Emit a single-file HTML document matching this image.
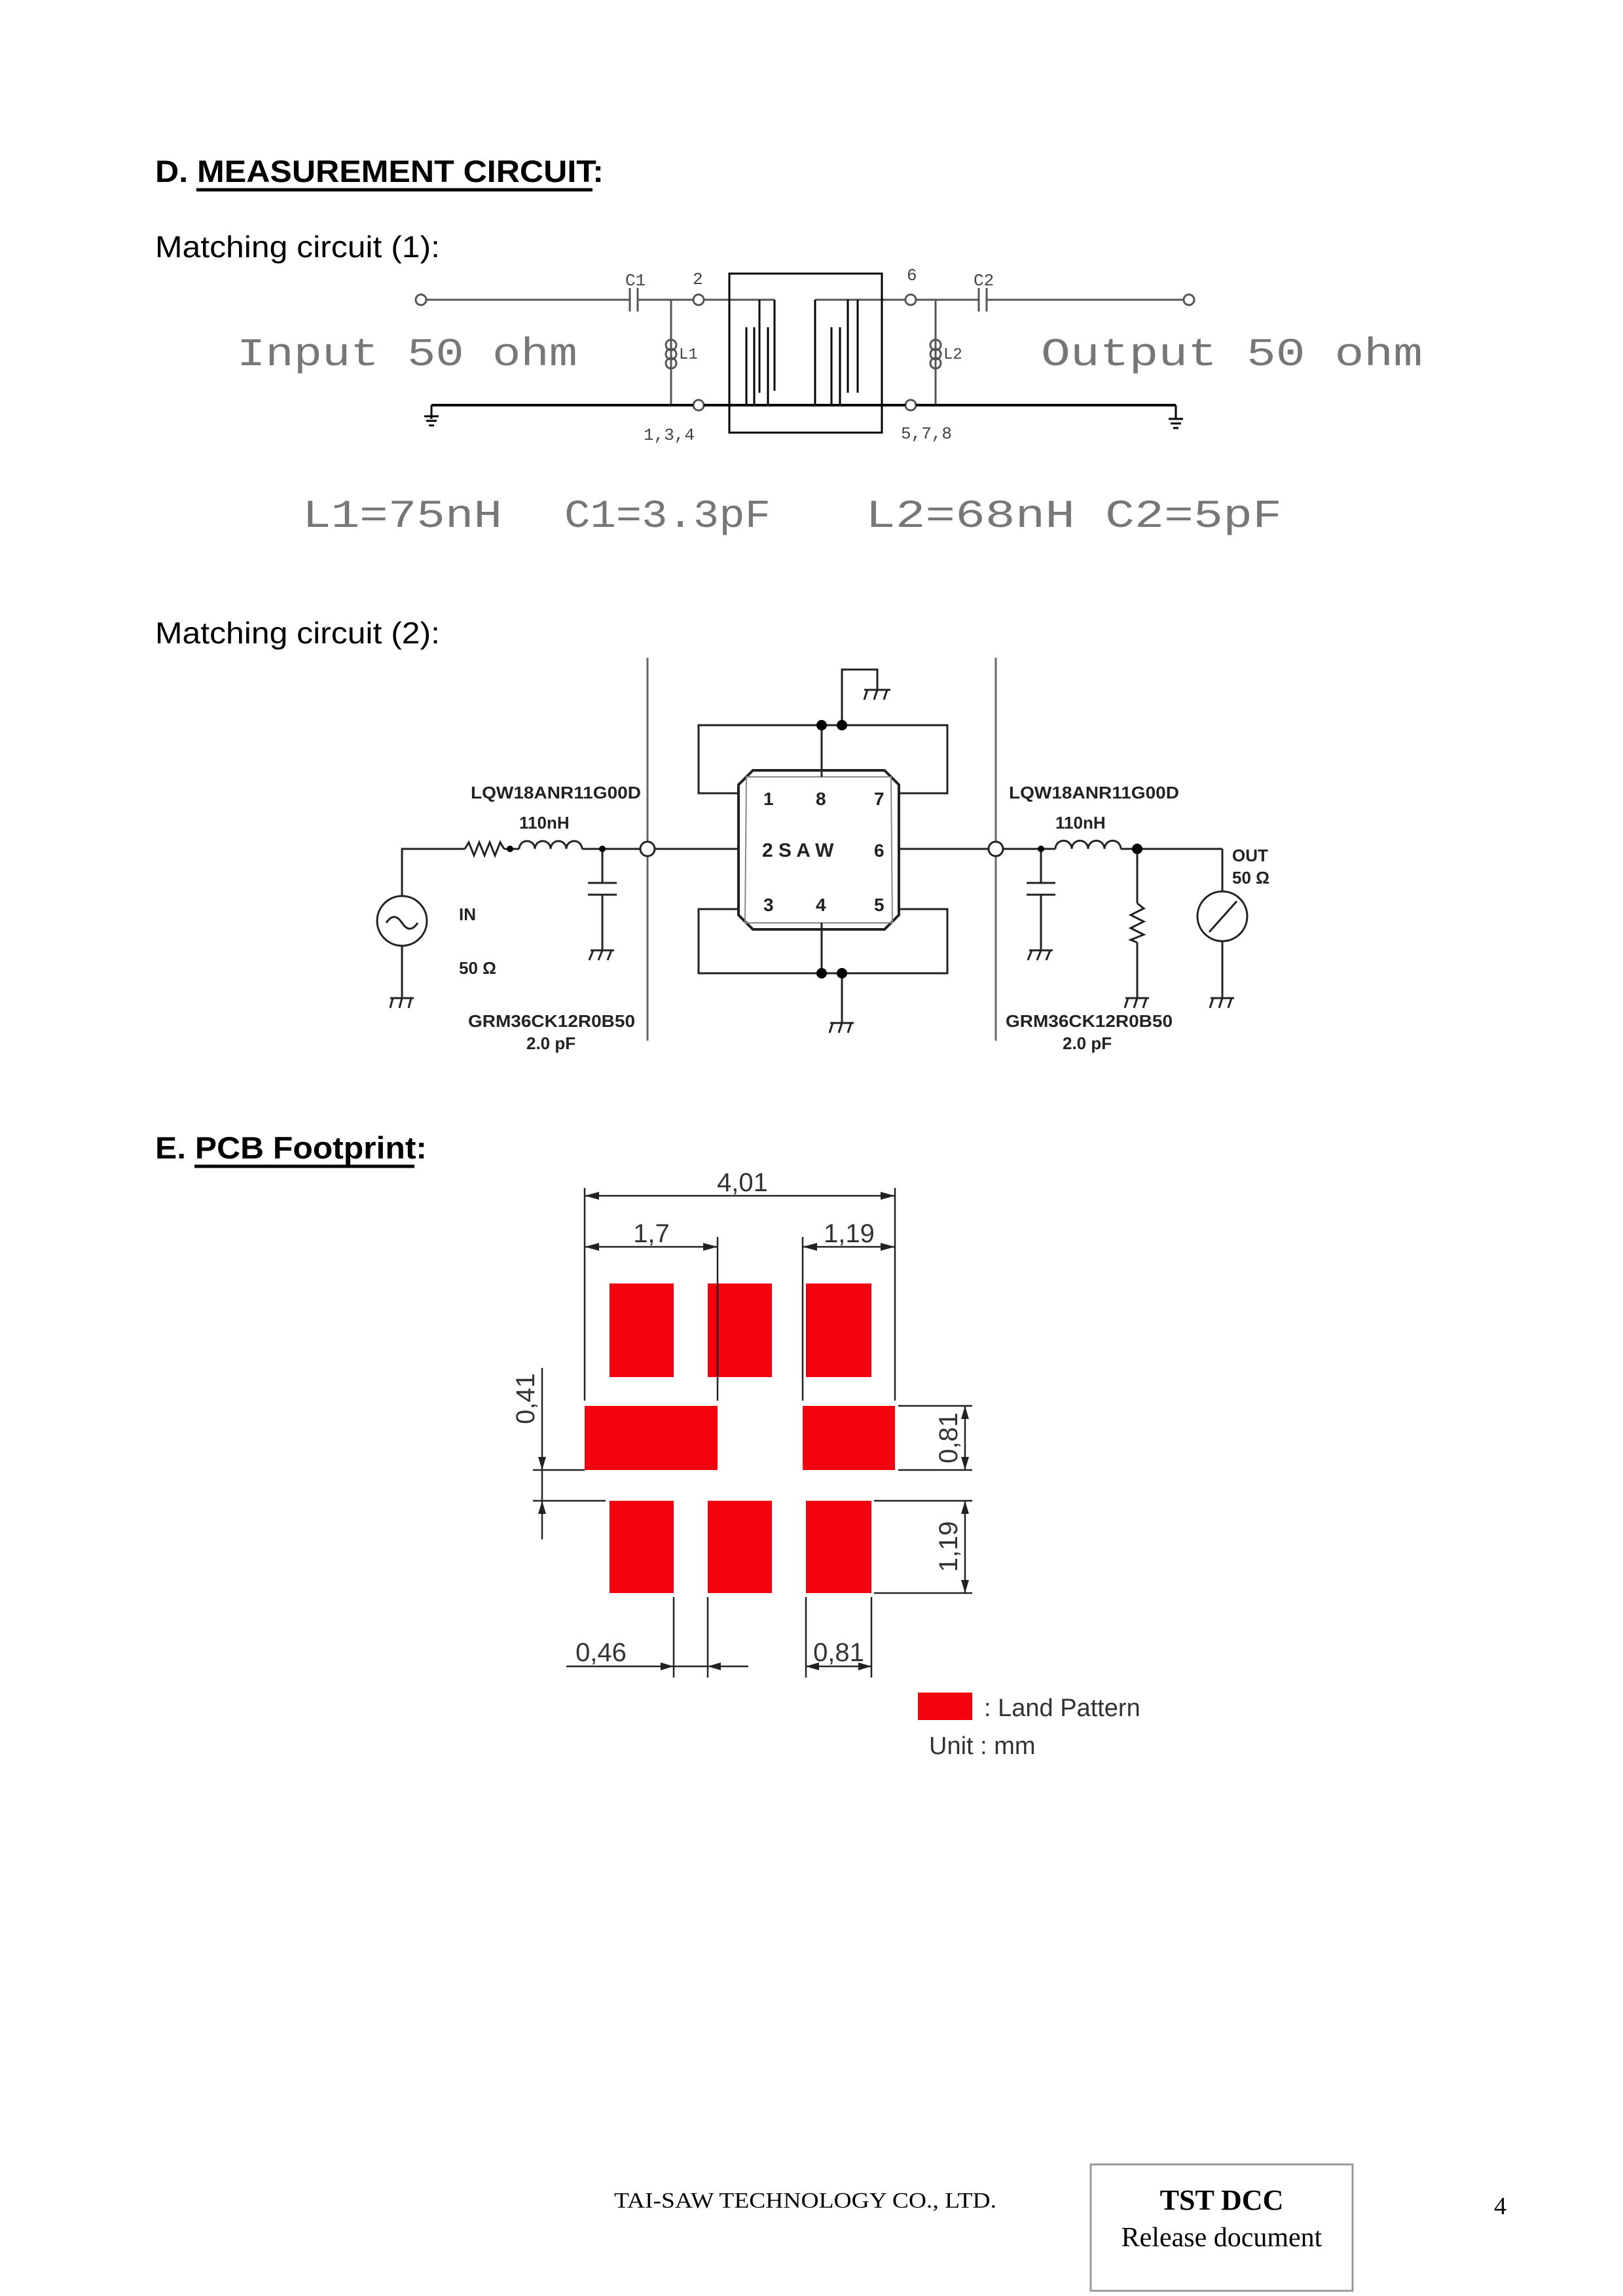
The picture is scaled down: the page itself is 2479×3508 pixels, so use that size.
<!DOCTYPE html>
<html><head><meta charset="utf-8"><style>
html,body{margin:0;padding:0;background:#fff}
svg{display:block}
</style></head><body>
<svg width="2479" height="3508" viewBox="0 0 2479 3508" xmlns="http://www.w3.org/2000/svg" font-family="Liberation Sans, sans-serif">
<rect width="2479" height="3508" fill="#fff"/>
<!-- Headings -->
<text x="237" y="278" font-size="47" font-weight="bold" textLength="685" lengthAdjust="spacingAndGlyphs">D. MEASUREMENT CIRCUIT:</text>
<line x1="300" y1="290" x2="905" y2="290" stroke="#000" stroke-width="5"/>
<text x="237" y="393" font-size="46" textLength="435" lengthAdjust="spacingAndGlyphs">Matching circuit (1):</text>
<text x="237" y="983" font-size="46" textLength="435" lengthAdjust="spacingAndGlyphs">Matching circuit (2):</text>
<text x="237" y="1770" font-size="47" font-weight="bold" textLength="415" lengthAdjust="spacingAndGlyphs">E. PCB Footprint:</text>
<line x1="297" y1="1782" x2="633" y2="1782" stroke="#000" stroke-width="5"/>

<!-- Circuit 1 -->
<g stroke="#555" stroke-width="3" fill="none">
<line x1="651" y1="458" x2="962" y2="458"/>
<line x1="974" y1="458" x2="1059" y2="458"/>
<line x1="1075" y1="458" x2="1183" y2="458"/>
<line x1="1245" y1="458" x2="1383" y2="458"/>
<line x1="1399" y1="458" x2="1495" y2="458"/>
<line x1="1507" y1="458" x2="1808" y2="458"/>
<line x1="962" y1="440" x2="962" y2="476"/><line x1="974" y1="440" x2="974" y2="476"/>
<line x1="1495" y1="440" x2="1495" y2="476"/><line x1="1507" y1="440" x2="1507" y2="476"/>
<circle cx="643" cy="458" r="8"/><circle cx="1067" cy="458" r="8"/><circle cx="1391" cy="458" r="8"/><circle cx="1816" cy="458" r="8"/>
<circle cx="1067" cy="619" r="8"/><circle cx="1391" cy="619" r="8"/>
<line x1="1025" y1="458" x2="1025" y2="619"/>
<line x1="1429" y1="458" x2="1429" y2="619"/>
<ellipse cx="1025" cy="527" rx="8" ry="8"/><ellipse cx="1025" cy="541" rx="8" ry="8"/><ellipse cx="1025" cy="555" rx="8" ry="8"/>
<ellipse cx="1429" cy="527" rx="8" ry="8"/><ellipse cx="1429" cy="541" rx="8" ry="8"/><ellipse cx="1429" cy="555" rx="8" ry="8"/>
</g>
<g stroke="#000" stroke-width="3" fill="none">
<rect x="1114" y="418" width="233" height="243"/>
<line x1="659" y1="619" x2="1059" y2="619" stroke-width="4"/>
<line x1="1075" y1="619" x2="1383" y2="619" stroke-width="4"/>
<line x1="1399" y1="619" x2="1796" y2="619" stroke-width="4"/>
<line x1="659" y1="619" x2="659" y2="640"/>
<line x1="648" y1="636" x2="670" y2="636"/><line x1="651" y1="643" x2="667" y2="643"/><line x1="655" y1="650" x2="663" y2="650"/>
<line x1="1796" y1="619" x2="1796" y2="640"/>
<line x1="1785" y1="640" x2="1807" y2="640"/><line x1="1788" y1="647" x2="1804" y2="647"/><line x1="1792" y1="654" x2="1800" y2="654"/>
<line x1="1183" y1="458" x2="1183" y2="597"/>
<line x1="1160" y1="458" x2="1160" y2="600"/>
<line x1="1173" y1="500" x2="1173" y2="619"/>
<line x1="1140" y1="500" x2="1140" y2="619"/>
<line x1="1152" y1="500" x2="1152" y2="619"/>
<line x1="1245" y1="458" x2="1245" y2="619"/>
<line x1="1270" y1="500" x2="1270" y2="619"/>
<line x1="1295" y1="458" x2="1295" y2="600"/>
<line x1="1310" y1="458" x2="1310" y2="600"/>
<line x1="1283" y1="500" x2="1283" y2="619"/>
</g>
<g font-family="Liberation Mono, monospace" fill="#444">
<text x="955" y="436" font-size="26">C1</text>
<text x="1058" y="434" font-size="26">2</text>
<text x="1385" y="428" font-size="26">6</text>
<text x="1487" y="436" font-size="26">C2</text>
<text x="1037" y="548" font-size="24">L1</text>
<text x="1441" y="548" font-size="24">L2</text>
<text x="983" y="672" font-size="26">1,3,4</text>
<text x="1376" y="670" font-size="26">5,7,8</text>
<text x="362" y="558" font-size="60" fill="#777" textLength="520" lengthAdjust="spacingAndGlyphs">Input 50 ohm</text>
<text x="1590" y="558" font-size="60" fill="#777" textLength="583" lengthAdjust="spacingAndGlyphs">Output 50 ohm</text>
<text x="462" y="805" font-size="60" fill="#777" textLength="305" lengthAdjust="spacingAndGlyphs">L1=75nH</text>
<text x="862" y="805" font-size="60" fill="#777" textLength="315" lengthAdjust="spacingAndGlyphs">C1=3.3pF</text>
<text x="1322" y="805" font-size="60" fill="#777" textLength="320" lengthAdjust="spacingAndGlyphs">L2=68nH</text>
<text x="1688" y="805" font-size="60" fill="#777" textLength="270" lengthAdjust="spacingAndGlyphs">C2=5pF</text>
</g>

<!-- Circuit 2 -->
<g stroke="#222" stroke-width="3" fill="none">
<line x1="989" y1="1005" x2="989" y2="1590" stroke="#666"/>
<line x1="1521" y1="1005" x2="1521" y2="1590" stroke="#666"/>
<circle cx="614" cy="1407" r="38"/>
<path d="M590 1410 q12 -18 24 0 q12 18 24 0"/>
<polyline points="614,1369 614,1297 710,1297"/>
<polyline points="710,1297 716,1287 724,1307 732,1287 740,1307 748,1287 756,1307 764,1287 770,1297"/>
<line x1="770" y1="1297" x2="793" y2="1297"/>
<path d="M793 1297 a12 12 0 0 1 24 0 a12 12 0 0 1 24 0 a12 12 0 0 1 24 0 a12 12 0 0 1 24 0"/>
<line x1="889" y1="1297" x2="981" y2="1297"/>
<line x1="614" y1="1445" x2="614" y2="1525"/>
<line x1="596" y1="1525" x2="632" y2="1525"/>
<line x1="600" y1="1525" x2="596" y2="1540"/><line x1="614" y1="1525" x2="610" y2="1540"/><line x1="628" y1="1525" x2="624" y2="1540"/>
<line x1="920" y1="1297" x2="920" y2="1349"/>
<line x1="898" y1="1349" x2="942" y2="1349"/><line x1="898" y1="1367" x2="942" y2="1367"/>
<line x1="920" y1="1367" x2="920" y2="1452"/>
<line x1="902" y1="1452" x2="938" y2="1452"/>
<line x1="906" y1="1452" x2="900" y2="1467"/><line x1="920" y1="1452" x2="914" y2="1467"/><line x1="934" y1="1452" x2="928" y2="1467"/>
<circle cx="989" cy="1297" r="11" fill="#fff"/>
<line x1="1000" y1="1297" x2="1130" y2="1297"/>
<path d="M1150 1177 L1351 1177 L1373 1199 L1373 1398 L1351 1420 L1150 1420 L1128 1398 L1128 1199 Z" stroke-width="4"/>
<path d="M1140 1187 L1361 1187 L1363 1410 L1138 1410 Z" stroke-width="2" stroke="#888"/>
<line x1="1373" y1="1297" x2="1513" y2="1297"/>
<polyline points="1128,1212 1067,1212 1067,1108 1447,1108 1447,1212 1373,1212"/>
<line x1="1255" y1="1108" x2="1255" y2="1187"/>
<polyline points="1286,1108 1286,1023 1340,1023 1340,1054"/>
<line x1="1320" y1="1054" x2="1360" y2="1054"/>
<line x1="1325" y1="1054" x2="1320" y2="1069"/><line x1="1340" y1="1054" x2="1335" y2="1069"/><line x1="1355" y1="1054" x2="1350" y2="1069"/>
<polyline points="1128,1389 1067,1389 1067,1487 1447,1487 1447,1389 1373,1389"/>
<line x1="1255" y1="1410" x2="1255" y2="1487"/>
<line x1="1286" y1="1487" x2="1286" y2="1563"/>
<line x1="1268" y1="1563" x2="1304" y2="1563"/>
<line x1="1272" y1="1563" x2="1267" y2="1578"/><line x1="1286" y1="1563" x2="1281" y2="1578"/><line x1="1300" y1="1563" x2="1295" y2="1578"/>
<circle cx="1521" cy="1297" r="11" fill="#fff"/>
<line x1="1532" y1="1297" x2="1612" y2="1297"/>
<path d="M1612 1297 a12.5 12.5 0 0 1 25 0 a12.5 12.5 0 0 1 25 0 a12.5 12.5 0 0 1 25 0 a12.5 12.5 0 0 1 25 0"/>
<line x1="1712" y1="1297" x2="1867" y2="1297"/>
<line x1="1590" y1="1297" x2="1590" y2="1349"/>
<line x1="1568" y1="1349" x2="1612" y2="1349"/><line x1="1568" y1="1367" x2="1612" y2="1367"/>
<line x1="1590" y1="1367" x2="1590" y2="1452"/>
<line x1="1572" y1="1452" x2="1608" y2="1452"/>
<line x1="1576" y1="1452" x2="1570" y2="1467"/><line x1="1590" y1="1452" x2="1584" y2="1467"/><line x1="1604" y1="1452" x2="1598" y2="1467"/>
<line x1="1737" y1="1297" x2="1737" y2="1380"/>
<polyline points="1737,1380 1747,1388 1727,1398 1747,1408 1727,1418 1747,1428 1727,1436 1737,1440"/>
<line x1="1737" y1="1440" x2="1737" y2="1525"/>
<line x1="1719" y1="1525" x2="1755" y2="1525"/>
<line x1="1723" y1="1525" x2="1718" y2="1540"/><line x1="1737" y1="1525" x2="1732" y2="1540"/><line x1="1751" y1="1525" x2="1746" y2="1540"/>
<line x1="1867" y1="1297" x2="1867" y2="1362"/>
<circle cx="1867" cy="1400" r="38"/>
<line x1="1847" y1="1424" x2="1889" y2="1377"/>
<line x1="1867" y1="1438" x2="1867" y2="1525"/>
<line x1="1849" y1="1525" x2="1885" y2="1525"/>
<line x1="1853" y1="1525" x2="1848" y2="1540"/><line x1="1867" y1="1525" x2="1862" y2="1540"/><line x1="1881" y1="1525" x2="1876" y2="1540"/>
</g>
<g fill="#000">
<circle cx="779" cy="1297" r="5"/><circle cx="920" cy="1297" r="5"/>
<circle cx="1255" cy="1108" r="8"/><circle cx="1286" cy="1108" r="8"/>
<circle cx="1255" cy="1487" r="8"/><circle cx="1286" cy="1487" r="8"/>
<circle cx="1590" cy="1297" r="5"/><circle cx="1737" cy="1297" r="8"/>
</g>
<g font-size="26" font-weight="bold" fill="#222">
<text x="719" y="1220" textLength="260" lengthAdjust="spacingAndGlyphs">LQW18ANR11G00D</text>
<text x="793" y="1266">110nH</text>
<text x="701" y="1406">IN</text>
<text x="701" y="1488">50 Ω</text>
<text x="715" y="1569" textLength="255" lengthAdjust="spacingAndGlyphs">GRM36CK12R0B50</text>
<text x="804" y="1603">2.0 pF</text>
<text x="1541" y="1220" textLength="260" lengthAdjust="spacingAndGlyphs">LQW18ANR11G00D</text>
<text x="1612" y="1266">110nH</text>
<text x="1536" y="1569" textLength="255" lengthAdjust="spacingAndGlyphs">GRM36CK12R0B50</text>
<text x="1623" y="1603">2.0 pF</text>
<text x="1882" y="1316">OUT</text>
<text x="1882" y="1350">50 Ω</text>
<text x="1166" y="1230" font-size="28">1</text>
<text x="1246" y="1230" font-size="28">8</text>
<text x="1335" y="1230" font-size="28">7</text>
<text x="1164" y="1309" font-size="30">2 S A W</text>
<text x="1335" y="1309" font-size="28">6</text>
<text x="1166" y="1392" font-size="28">3</text>
<text x="1246" y="1392" font-size="28">4</text>
<text x="1335" y="1392" font-size="28">5</text>
</g>

<!-- PCB footprint -->
<g fill="#f5000f">
<rect x="931" y="1961" width="98" height="143"/>
<rect x="1081" y="1961" width="98" height="143"/>
<rect x="1231" y="1961" width="100" height="143"/>
<rect x="893" y="2148" width="203" height="98"/>
<rect x="1226" y="2148" width="141" height="98"/>
<rect x="931" y="2293" width="98" height="141"/>
<rect x="1081" y="2293" width="98" height="141"/>
<rect x="1231" y="2293" width="100" height="141"/>
<rect x="1402" y="2586" width="83" height="42"/>
</g>
<g stroke="#222" stroke-width="2.5" fill="none">
<line x1="893" y1="1815" x2="893" y2="2140"/>
<line x1="1367" y1="1815" x2="1367" y2="2140"/>
<line x1="893" y1="1827" x2="1367" y2="1827"/>
<line x1="1096" y1="1890" x2="1096" y2="2140"/>
<line x1="1226" y1="1890" x2="1226" y2="2140"/>
<line x1="893" y1="1905" x2="1096" y2="1905"/>
<line x1="1226" y1="1905" x2="1367" y2="1905"/>
<line x1="828" y1="2090" x2="828" y2="2352"/>
<line x1="814" y1="2246" x2="893" y2="2246"/>
<line x1="814" y1="2293" x2="925" y2="2293"/>
<line x1="1372" y1="2148" x2="1485" y2="2148"/>
<line x1="1372" y1="2246" x2="1485" y2="2246"/>
<line x1="1474" y1="2148" x2="1474" y2="2246"/>
<line x1="1335" y1="2293" x2="1485" y2="2293"/>
<line x1="1335" y1="2434" x2="1485" y2="2434"/>
<line x1="1474" y1="2293" x2="1474" y2="2434"/>
<line x1="1029" y1="2440" x2="1029" y2="2563"/>
<line x1="1081" y1="2440" x2="1081" y2="2563"/>
<line x1="865" y1="2546" x2="1143" y2="2546"/>
<line x1="1231" y1="2440" x2="1231" y2="2563"/>
<line x1="1331" y1="2440" x2="1331" y2="2563"/>
<line x1="1231" y1="2546" x2="1331" y2="2546"/>
</g>
<g fill="#222">
<path d="M893 1827 l22 -6 v12z M1367 1827 l-22 -6 v12z"/>
<path d="M893 1905 l22 -6 v12z M1096 1905 l-22 -6 v12z"/>
<path d="M1226 1905 l22 -6 v12z M1367 1905 l-22 -6 v12z"/>
<path d="M828 2246 l-6 -20 h12z M828 2293 l-6 20 h12z"/>
<path d="M1474 2148 l-6 20 h12z M1474 2246 l-6 -20 h12z"/>
<path d="M1474 2293 l-6 20 h12z M1474 2434 l-6 -20 h12z"/>
<path d="M1029 2546 l-20 -6 v12z M1081 2546 l20 -6 v12z"/>
<path d="M1231 2546 l20 -6 v12z M1331 2546 l-20 -6 v12z"/>
</g>
<g font-family="Liberation Sans, sans-serif" font-size="40" fill="#333">
<text x="1134" y="1820" text-anchor="middle">4,01</text>
<text x="995" y="1898" text-anchor="middle">1,7</text>
<text x="1297" y="1898" text-anchor="middle">1,19</text>
<text x="0" y="0" text-anchor="middle" transform="translate(816,2137) rotate(-90)">0,41</text>
<text x="0" y="0" text-anchor="middle" transform="translate(1462,2197) rotate(-90)">0,81</text>
<text x="0" y="0" text-anchor="middle" transform="translate(1462,2363) rotate(-90)">1,19</text>
<text x="918" y="2538" text-anchor="middle">0,46</text>
<text x="1281" y="2538" text-anchor="middle">0,81</text>
<text x="1503" y="2622" font-size="38">: Land Pattern</text>
<text x="1419" y="2680" font-size="38">Unit : mm</text>
</g>

<!-- Footer -->
<g font-family="Liberation Serif, serif" fill="#000">
<text x="938" y="3373" font-size="34" textLength="584" lengthAdjust="spacingAndGlyphs">TAI-SAW TECHNOLOGY CO., LTD.</text>
<rect x="1666" y="3307" width="400" height="193" fill="none" stroke="#999" stroke-width="3"/>
<text x="1866" y="3376" font-size="44" font-weight="bold" text-anchor="middle">TST DCC</text>
<text x="1866" y="3432" font-size="42" text-anchor="middle">Release document</text>
<text x="2282" y="3383" font-size="38">4</text>
</g>
</svg>
</body></html>
